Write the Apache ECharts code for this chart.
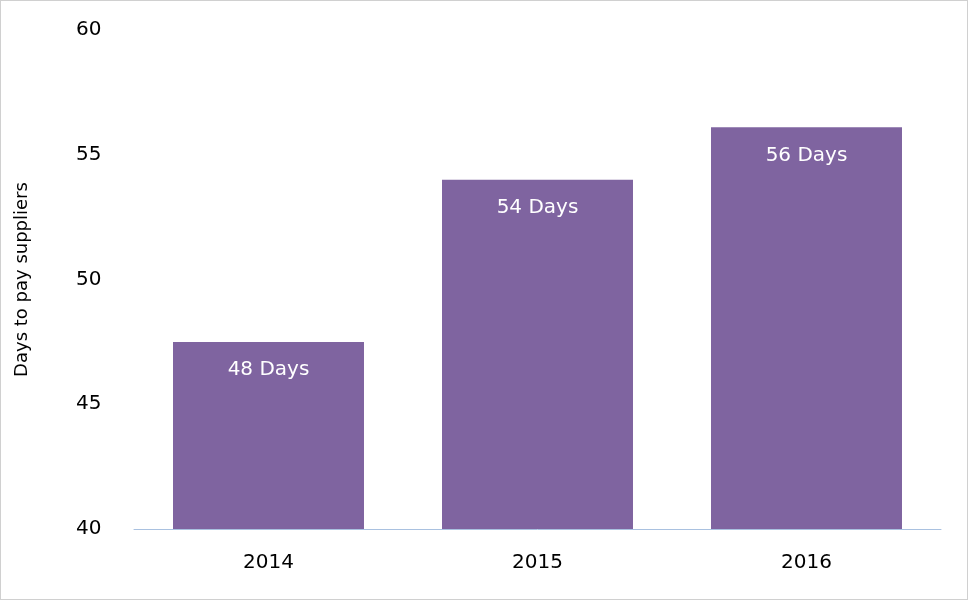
<!DOCTYPE html>
<html><head><meta charset="utf-8">
<script src="https://cdn.jsdelivr.net/npm/echarts@6/dist/echarts.min.js"></script>
<style>html,body{margin:0;padding:0;}#c{width:966px;height:598px;border:1px solid #d0d0d0;}</style>
</head><body><div id="c"></div>
<script>
const categories = ['2014','2015','2016'];
const values = [47.5, 54, 56.1];
const labels = ['48 Days','54 Days','56 Days'];
const yTicks = [40,45,50,55,60];
const chart = echarts.init(document.getElementById('c'));
chart.setOption({
  animation:false,
  grid:{left:133,right:26,top:29,bottom:70},
  xAxis:{type:'category',data:categories,
    axisLine:{lineStyle:{color:'#a9c1e0'}},axisTick:{show:false},
    axisLabel:{color:'#000',fontSize:20,margin:24,fontFamily:'DejaVu Sans'}},
  yAxis:{type:'value',min:40,max:60,interval:5,
    name:'Days to pay suppliers',nameLocation:'middle',nameGap:103,
    nameTextStyle:{fontSize:18,color:'#000',fontFamily:'DejaVu Sans'},
    axisLine:{show:false},axisTick:{show:false},splitLine:{show:false},
    axisLabel:{color:'#000',fontSize:20,margin:58,align:'left',fontFamily:'DejaVu Sans'}},
  series:[{type:'bar',data:values,barCategoryGap:'29%',
    itemStyle:{color:'#7f64a0'},
    label:{show:true,position:'insideTop',distance:18,color:'#fff',fontSize:20,fontFamily:'DejaVu Sans',
      formatter:p=>labels[p.dataIndex]}}]
});
</script></body></html>
